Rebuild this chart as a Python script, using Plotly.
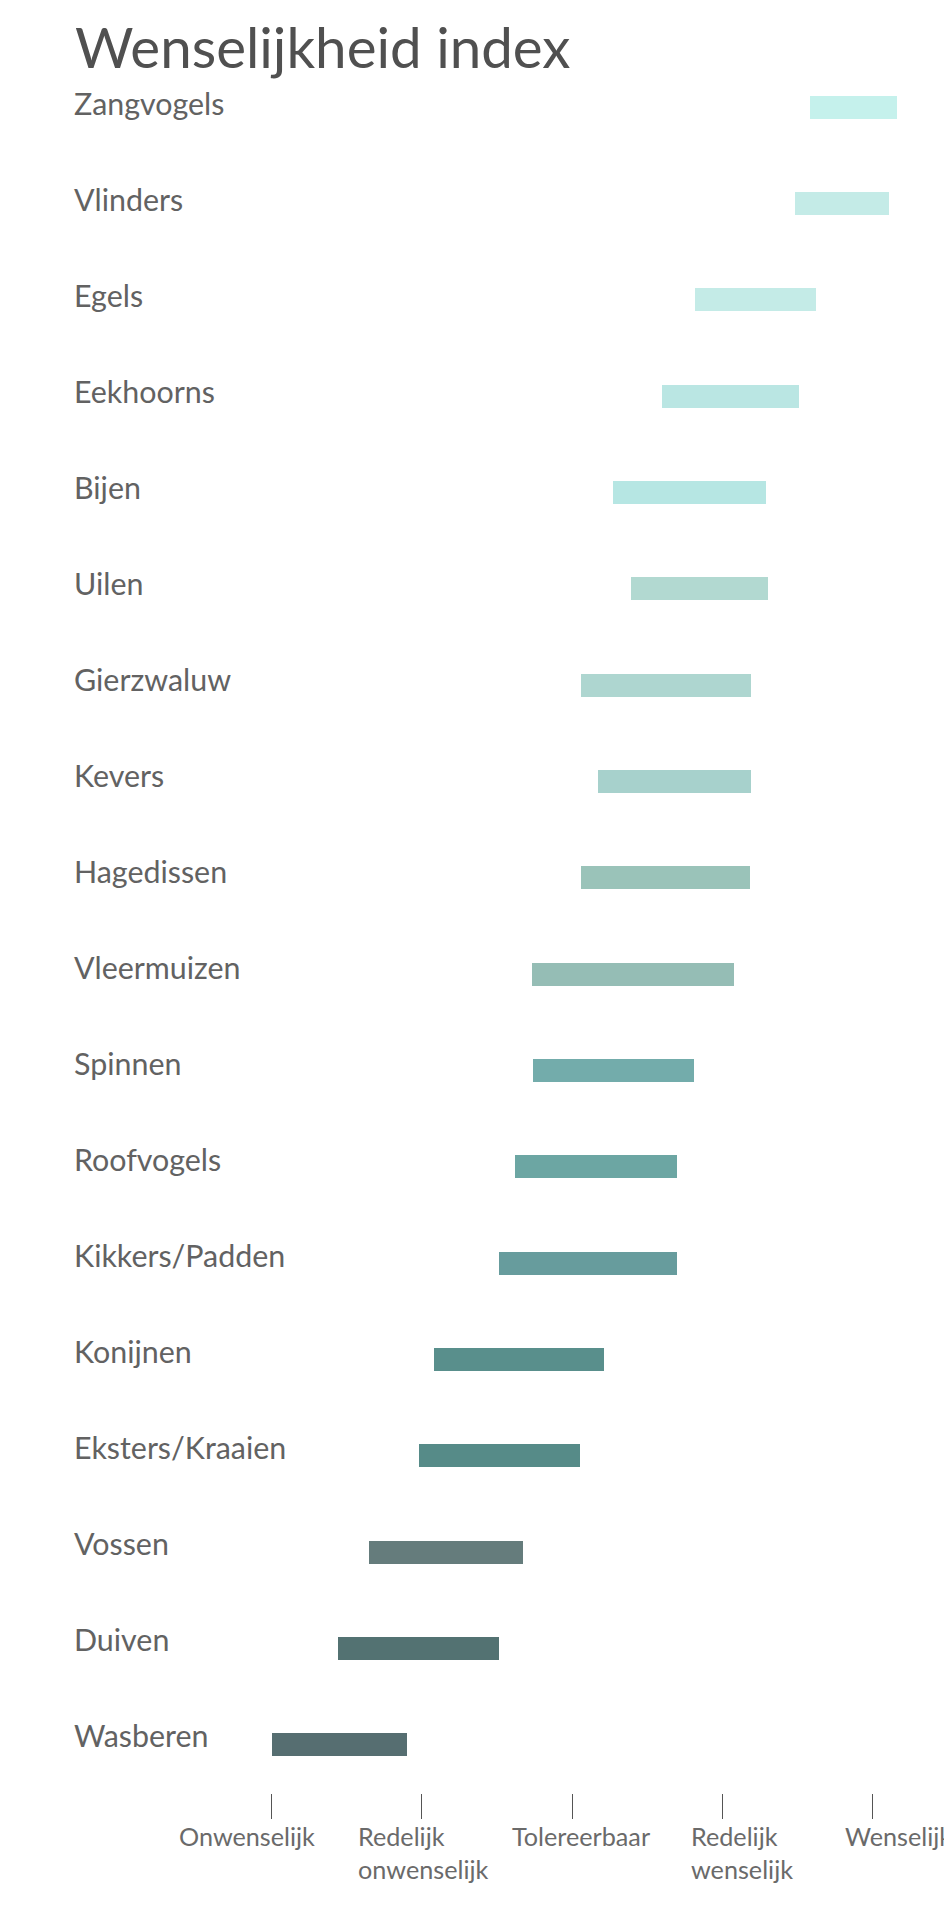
import plotly.graph_objects as go

animals = ["Zangvogels", "Vlinders", "Egels", "Eekhoorns", "Bijen", "Uilen",
           "Gierzwaluw", "Kevers", "Hagedissen", "Vleermuizen", "Spinnen",
           "Roofvogels", "Kikkers/Padden", "Konijnen", "Eksters/Kraaien",
           "Vossen", "Duiven", "Wasberen"]
low = [4.58, 4.48, 3.82, 3.60, 3.27, 3.39, 3.06, 3.17, 3.06, 2.73, 2.74,
       2.62, 2.51, 2.08, 1.98, 1.65, 1.44, 1.00]
high = [5.16, 5.11, 4.62, 4.51, 4.29, 4.30, 4.19, 4.19, 4.18, 4.08, 3.81,
        3.70, 3.70, 3.21, 3.05, 2.67, 2.51, 1.90]
colors = ["#c5f1ec", "#c4ebe7", "#c4ebe7", "#bae6e3", "#b6e6e3", "#b2d9d1",
          "#aed6d0", "#a7d1cc", "#9ac3b9", "#95bdb5", "#73acab", "#6ca6a3",
          "#679c9d", "#598f8c", "#568b88", "#657c7c", "#537272", "#566e71"]
tick_vals = [1, 2, 3, 4, 5]
tick_text = ["Onwenselijk", "Redelijk<br>onwenselijk", "Tolereerbaar",
             "Redelijk<br>wenselijk", "Wenselijk"]
tick_text_shift = [-95, -66, -62, -33, -30]

FONT = "Lato"
W, H = 952, 1931

fig = go.Figure(go.Bar(
    y=animals,
    x=[h - l for l, h in zip(low, high)],
    base=low,
    orientation="h",
    width=0.24,
    marker=dict(color=colors, line=dict(width=0)),
    hoverinfo="skip",
))

annotations = []
for i, a in enumerate(animals):
    annotations.append(dict(
        text=a, x=64 / W, xref="paper", xanchor="left",
        y=a, yref="y", yanchor="middle", yshift=4 + 0.37 * i, showarrow=False,
        font=dict(family=FONT, size=30.4, color="#626262"),
    ))
for v, t, s in zip(tick_vals, tick_text, tick_text_shift):
    annotations.append(dict(
        text=t, x=v, xref="x", xanchor="left", xshift=s, align="left",
        y=0, yref="paper", yanchor="top", yshift=-26, showarrow=False,
        font=dict(family=FONT, size=25.2, color="#6a6a6a"),
    ))

fig.update_layout(
    width=W, height=H,
    margin=dict(l=0, r=0, t=51, b=146),
    paper_bgcolor="white", plot_bgcolor="white",
    showlegend=False,
    title=dict(text="Wenselijkheid index", x=67 / W, xanchor="left",
               y=1 - 20 / H, yanchor="top", yref="container",
               font=dict(family=FONT, size=56.5, color="#505050")),
    xaxis=dict(range=[-0.7551, 5.5810], tickvals=tick_vals,
               showticklabels=False, ticks="outside", ticklen=25,
               tickcolor="#555555", tickwidth=1, showgrid=False,
               zeroline=False, showline=False, fixedrange=True),
    yaxis=dict(autorange="reversed", showticklabels=False, showgrid=False,
               zeroline=False, showline=False, ticks="", fixedrange=True),
    annotations=annotations,
    bargap=0,
)

fig.write_html("out.html")
